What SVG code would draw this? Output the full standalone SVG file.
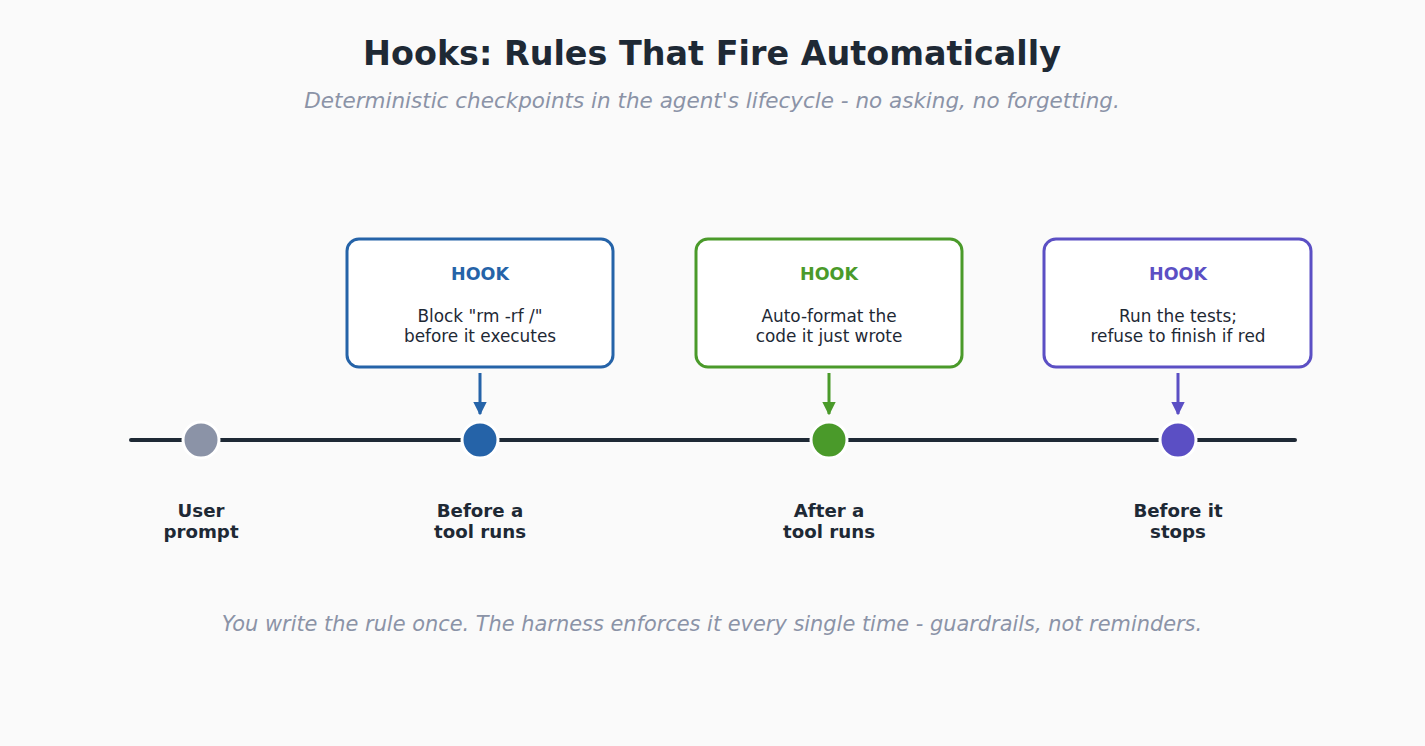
<svg xmlns="http://www.w3.org/2000/svg" width="1425" height="746" viewBox="0 0 1425 746">
<defs>
<style>
text{font-family:"DejaVu Sans","Liberation Sans",sans-serif;text-anchor:middle}
.title{font-size:33.4px;font-weight:bold;fill:#1e2935}
.sub{font-size:21.5px;font-style:italic;fill:#8b93a7}
.foot{font-size:20.9px;font-style:italic;fill:#8b93a7}
.box{fill:#ffffff;stroke-width:3}
.hook{font-size:17.5px;font-weight:bold}
.body{font-size:16.9px;fill:#1e2935}
.lbl{font-size:18.2px;font-weight:bold;fill:#1e2935}
.dot{stroke:#ffffff;stroke-width:3}
.arr{stroke-width:3;fill:none}
</style>
<marker id="mb" viewBox="0 0 10 10" refX="9" refY="5" markerWidth="4.5" markerHeight="4.5" orient="auto" markerUnits="strokeWidth"><path d="M0,0 L10,5 L0,10 z" fill="#2563a8"/></marker>
<marker id="mg" viewBox="0 0 10 10" refX="9" refY="5" markerWidth="4.5" markerHeight="4.5" orient="auto" markerUnits="strokeWidth"><path d="M0,0 L10,5 L0,10 z" fill="#4a9a2a"/></marker>
<marker id="mp" viewBox="0 0 10 10" refX="9" refY="5" markerWidth="4.5" markerHeight="4.5" orient="auto" markerUnits="strokeWidth"><path d="M0,0 L10,5 L0,10 z" fill="#5b4fc4"/></marker>
</defs>
<rect width="1425" height="746" fill="#fafafa"/>
<text class="title" x="712" y="65">Hooks: Rules That Fire Automatically</text>
<text class="sub" x="712" y="108">Deterministic checkpoints in the agent's lifecycle - no asking, no forgetting.</text>
<g id="connectors">
<line x1="131" y1="440" x2="1295" y2="440" stroke="#1e2935" stroke-width="4" stroke-linecap="round"/>
<line class="arr" x1="480" y1="373" x2="480" y2="414" stroke="#2563a8" marker-end="url(#mb)"/>
<line class="arr" x1="829" y1="373" x2="829" y2="414" stroke="#4a9a2a" marker-end="url(#mg)"/>
<line class="arr" x1="1178" y1="373" x2="1178" y2="414" stroke="#5b4fc4" marker-end="url(#mp)"/>
</g>
<g id="node-prompt">
<circle class="dot" cx="201" cy="440" r="18" fill="#8b93a7"/>
<text class="lbl" x="201" y="517">User</text>
<text class="lbl" x="201" y="538">prompt</text>
</g>
<g id="node-pre">
<circle class="dot" cx="480" cy="440" r="18" fill="#2563a8"/>
<text class="lbl" x="480" y="517">Before a</text>
<text class="lbl" x="480" y="538">tool runs</text>
</g>
<g id="node-post">
<circle class="dot" cx="829" cy="440" r="18" fill="#4a9a2a"/>
<text class="lbl" x="829" y="517">After a</text>
<text class="lbl" x="829" y="538">tool runs</text>
</g>
<g id="node-stop">
<circle class="dot" cx="1178" cy="440" r="18" fill="#5b4fc4"/>
<text class="lbl" x="1178" y="517">Before it</text>
<text class="lbl" x="1178" y="538">stops</text>
</g>
<g id="hook-pre">
<rect class="box" x="347" y="239" width="266" height="128" rx="12" stroke="#2563a8"/>
<text class="hook" x="480" y="280" fill="#2563a8">HOOK</text>
<text class="body" x="480" y="322">Block "rm -rf /"</text>
<text class="body" x="480" y="342">before it executes</text>
</g>
<g id="hook-post">
<rect class="box" x="696" y="239" width="266" height="128" rx="12" stroke="#4a9a2a"/>
<text class="hook" x="829" y="280" fill="#4a9a2a">HOOK</text>
<text class="body" x="829" y="322">Auto-format the</text>
<text class="body" x="829" y="342">code it just wrote</text>
</g>
<g id="hook-stop">
<rect class="box" x="1044" y="239" width="267" height="128" rx="12" stroke="#5b4fc4"/>
<text class="hook" x="1178" y="280" fill="#5b4fc4">HOOK</text>
<text class="body" x="1178" y="322">Run the tests;</text>
<text class="body" x="1178" y="342">refuse to finish if red</text>
</g>
<text class="foot" x="712" y="631">You write the rule once. The harness enforces it every single time - guardrails, not reminders.</text>
</svg>
